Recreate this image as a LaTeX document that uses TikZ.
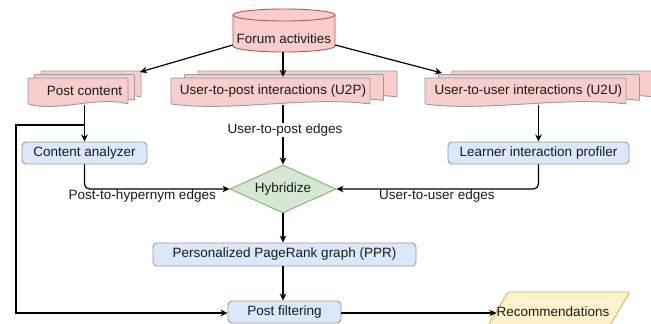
\documentclass[tikz,border=0pt]{standalone}
\usepackage{fontspec}
\setmainfont{Liberation Sans}
\usetikzlibrary{arrows.meta,shapes.geometric}
\definecolor{redfill}{HTML}{F8CECC}
\definecolor{redline}{HTML}{B85450}
\definecolor{bluefill}{HTML}{DAE8FC}
\definecolor{grayline}{HTML}{9A9A9A}
\definecolor{greenfill}{HTML}{D5E8D4}
\definecolor{greenline}{HTML}{82B366}
\definecolor{yellowfill}{HTML}{FFF2CC}
\definecolor{yellowline}{HTML}{D6B656}
\definecolor{txt}{HTML}{1A1A1A}
\newcommand{\docpage}[4]{%
  \filldraw[docline] (#1,-#3) -- (#2,-#3) -- (#2,-#4)
   .. controls ({0.3*#1+0.7*#2},{-#4+8}) and ({0.7*#1+0.3*#2},{-#4-8}) .. (#1,-#4) -- cycle;}
\begin{document}
\begin{tikzpicture}[x=1pt,y=1pt,
  font=\fontsize{13.5}{15}\selectfont, text=txt,
  docline/.style={fill=redfill, draw=grayline, line width=0.9pt, rounded corners=1pt},
  bluebox/.style={rectangle, rounded corners=4pt, fill=bluefill, draw=grayline, line width=0.9pt, inner sep=0pt, minimum height=22pt},
  plain/.style={inner sep=0pt},
  arr/.style={draw=black, line width=1.2pt, -{Stealth[length=7pt,width=6.5pt,inset=2pt]}},
  lbl/.style={inner sep=1pt, fill=white}]
\useasboundingbox (0,0) rectangle (651,-324);

% cylinder
\filldraw[fill=redfill, draw=redline, line width=0.9pt]
  (233,-15) -- (233,-46) arc[start angle=180, end angle=360, x radius=51, y radius=6]
  -- (335,-15) arc[start angle=0, end angle=180, x radius=51, y radius=6] -- cycle;
\draw[draw=redline, line width=0.9pt] (233,-15) arc[start angle=180, end angle=360, x radius=51, y radius=6];
\node[plain, minimum width=102pt, minimum height=26pt] (fa) at (284,-39) {Forum activities};

% document stacks
\docpage{41}{141}{71}{97}
\docpage{34.5}{134.5}{74.5}{100.5}
\docpage{28}{128}{78}{104}
\node[plain, minimum width=100pt, minimum height=28pt] (pc) at (84.5,-91) {Post content};

\docpage{198}{397}{71}{97}
\docpage{184.5}{383.5}{74.5}{100.5}
\docpage{171}{370}{78}{104}
\node[plain, minimum width=199pt, minimum height=28pt] (u2p) at (273,-91) {User-to-post interactions (U2P)};

\docpage{452}{653}{71}{97}
\docpage{438.5}{639.5}{74.5}{100.5}
\docpage{425}{626}{78}{104}
\node[plain, minimum width=201pt, minimum height=28pt] (u2u) at (528.5,-91) {User-to-user interactions (U2U)};

% process boxes
\node[bluebox, minimum width=125pt] (ca) at (84.5,-153) {Content analyzer};
\node[bluebox, minimum width=181pt] (lp) at (538.5,-153) {Learner interaction profiler};
\node[diamond, fill=greenfill, draw=greenline, line width=0.9pt, inner sep=0pt,
      minimum width=106pt, minimum height=48pt, aspect=2.2] (hy) at (283,-189) {Hybridize};
\node[bluebox, minimum width=263pt, minimum height=23pt] (ppr) at (284.5,-254.5) {Personalized PageRank graph (PPR)};
\node[bluebox, minimum width=113pt] (pf) at (284.5,-312) {Post filtering};

% output parallelogram
\filldraw[fill=yellowfill, draw=yellowline, line width=0.9pt, rounded corners=2pt]
  (508,-292) -- (630,-292) -- (606,-332) -- (484,-332) -- cycle;
\node[plain] (rec) at (553,-312) {Recommendations};

% connectors
\coordinate (pcin) at (140,-72);
\coordinate (u2uin) at (442,-73);
\coordinate (br) at (85,-125);
\draw[arr] ([yshift=-6pt]fa.west) -- (pcin);
\draw[arr] ([yshift=-6pt]fa.east) -- (u2uin);
\draw[arr] (fa.south -| hy.north) -- (u2p.north -| hy.north);
\draw[arr] (pc.south) -- (ca.north);
\draw[arr] (u2u.south -| lp.north) -- (lp.north);
\draw[arr] (u2p.south -| hy.north) -- node[lbl, pos=0.42, xshift=2pt] {User-to-post edges} (hy.north);
\draw[arr, rounded corners=5pt] (ca.south) |- (hy.west);
\draw[arr, rounded corners=5pt] (lp.south) |- (hy.east);
\node[plain, anchor=north east] at (216,-189.5) {Post-to-hypernym edges};
\node[plain, anchor=north west] at (379,-189.5) {User-to-user edges};
\draw[arr] (hy.south) -- (ppr.north -| hy.south);
\draw[arr] (ppr.south -| hy.south) -- (pf.north -| hy.south);
\draw[arr] (br) -- (16,-125) -- (16,-313) -- (pf.west |- 0,-313);
\draw[arr] (pf.east |- 0,-313) -- (rec.west |- 0,-313);
\end{tikzpicture}
\end{document}
